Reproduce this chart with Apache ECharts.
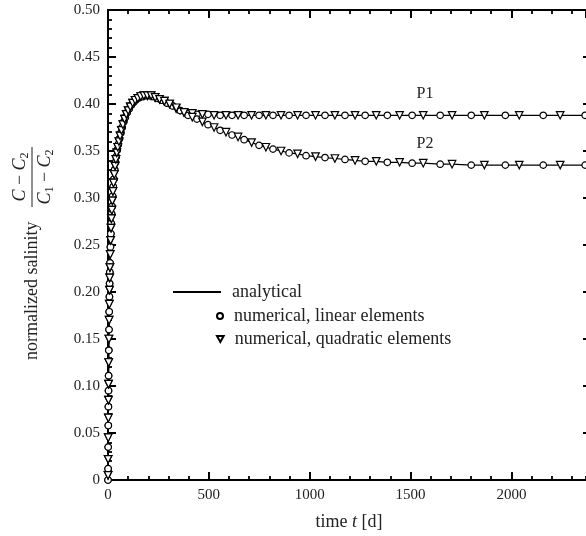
<!DOCTYPE html>
<html>
<head>
<meta charset="utf-8">
<script src="https://cdn.jsdelivr.net/npm/echarts@6/dist/echarts.min.js"></script>
<style>
  html, body { margin: 0; padding: 0; background: #fff; }
  #chart { width: 586px; height: 536px; }
</style>
</head>
<body>
<div id="chart"></div>
<script>
// output times [d] of the linear-element run (circles)
const tLin = [0, 0.5, 1, 1.5, 2, 2.5, 3, 4, 5, 6,
  7, 8, 9, 10, 12, 14, 16, 18, 20, 23,
  26, 29, 33, 37, 41, 46, 51, 57, 63, 70,
  78, 86, 95, 105, 116, 128, 141, 155, 170, 186,
  204, 223, 244, 267, 292, 320, 358, 397, 441, 496,
  556, 615, 675, 749, 818, 898, 982, 1076, 1175, 1275,
  1385, 1508, 1647, 1801, 1970, 2158, 2366];
const p1Lin = [0, 0.012, 0.035, 0.058, 0.078, 0.095, 0.111, 0.138, 0.160, 0.179,
  0.195, 0.209, 0.221, 0.231, 0.248, 0.262, 0.273, 0.283, 0.291, 0.302,
  0.312, 0.320, 0.330, 0.338, 0.344, 0.351, 0.357, 0.363, 0.369, 0.375,
  0.381, 0.386, 0.391, 0.395, 0.399, 0.402, 0.405, 0.407, 0.408, 0.409,
  0.409, 0.408, 0.406, 0.404, 0.401, 0.398, 0.393, 0.390, 0.389, 0.389,
  0.388, 0.388, 0.388, 0.388, 0.388, 0.388, 0.388, 0.388, 0.388, 0.388,
  0.388, 0.388, 0.388, 0.388, 0.388, 0.388, 0.388];
const p2Lin = [0, 0.012, 0.035, 0.058, 0.078, 0.095, 0.111, 0.138, 0.160, 0.179,
  0.195, 0.209, 0.221, 0.231, 0.248, 0.262, 0.273, 0.283, 0.291, 0.302,
  0.312, 0.320, 0.330, 0.338, 0.344, 0.351, 0.357, 0.363, 0.369, 0.375,
  0.381, 0.386, 0.391, 0.395, 0.399, 0.402, 0.405, 0.407, 0.408, 0.409,
  0.409, 0.408, 0.406, 0.404, 0.401, 0.398, 0.393, 0.388, 0.384, 0.378,
  0.372, 0.367, 0.362, 0.356, 0.352, 0.348, 0.345, 0.343, 0.341, 0.339,
  0.338, 0.337, 0.336, 0.335, 0.335, 0.335, 0.335];

// output times [d] of the quadratic-element run (triangles)
const tQuad = [0.3, 0.7, 1.2, 1.7, 2.2, 2.7, 3.5, 4.5, 5.5, 6.5,
  7.5, 8.5, 9.5, 11, 13, 15, 17, 19, 21.5, 24.5,
  27.5, 31, 35, 39, 43.5, 48.5, 54, 60, 66.5, 74,
  82, 90.5, 100, 110.5, 122, 134.5, 148, 162.5, 178, 195,
  213.5, 233.5, 255.5, 279.5, 305.5, 338, 377, 418, 468, 526,
  585, 645, 712, 783, 858, 940, 1029, 1125, 1225, 1330,
  1446, 1563, 1706, 1866, 2039, 2242];
const p1Quad = [0.005, 0.022, 0.045, 0.066, 0.085, 0.102, 0.125, 0.150, 0.170, 0.187,
  0.202, 0.215, 0.226, 0.240, 0.255, 0.268, 0.278, 0.287, 0.297, 0.307,
  0.316, 0.325, 0.334, 0.341, 0.348, 0.354, 0.360, 0.366, 0.372, 0.378,
  0.384, 0.389, 0.393, 0.397, 0.401, 0.404, 0.406, 0.408, 0.409, 0.409,
  0.409, 0.407, 0.405, 0.403, 0.400, 0.395, 0.391, 0.390, 0.389, 0.388,
  0.388, 0.388, 0.388, 0.388, 0.388, 0.388, 0.388, 0.388, 0.388, 0.388,
  0.388, 0.388, 0.388, 0.388, 0.388, 0.388];
const p2Quad = [0.005, 0.022, 0.045, 0.066, 0.085, 0.102, 0.125, 0.150, 0.170, 0.187,
  0.202, 0.215, 0.226, 0.240, 0.255, 0.268, 0.278, 0.287, 0.297, 0.307,
  0.316, 0.325, 0.334, 0.341, 0.348, 0.354, 0.360, 0.366, 0.372, 0.378,
  0.384, 0.389, 0.393, 0.397, 0.401, 0.404, 0.406, 0.408, 0.409, 0.409,
  0.409, 0.407, 0.405, 0.403, 0.400, 0.396, 0.391, 0.386, 0.381, 0.375,
  0.370, 0.365, 0.359, 0.354, 0.350, 0.347, 0.344, 0.342, 0.340, 0.339,
  0.338, 0.337, 0.336, 0.335, 0.335, 0.335];

const xTicks = [0, 500, 1000, 1500, 2000];
const yTicks = [0, 0.05, 0.1, 0.15, 0.2, 0.25, 0.3, 0.35, 0.4, 0.45, 0.5];
const pointLabels = ['P1', 'P2'];
const labelTime = 1572;
const xMax = 2370; // visible end of the time axis (figure is cropped on the right)

const FONT = 'Liberation Serif';

function pairs(t, v) {
  return t.map((x, i) => [x, v[i]]);
}
// analytical curve drawn through all output times of both runs
function merged(vLin, vQuad) {
  return pairs(tLin, vLin).concat(pairs(tQuad, vQuad)).sort((a, b) => a[0] - b[0]);
}

const chart = echarts.init(document.getElementById('chart'), null, { renderer: 'canvas' });

const axisLine = { onZero: false, lineStyle: { color: '#000', width: 2 } };
const tickStyle = { color: '#000', width: 2 };

function majorX(position, extra) {
  return Object.assign({
    type: 'value', min: 0, max: xMax, interval: 500, position: position,
    axisLine: axisLine,
    axisTick: { inside: true, length: 8, lineStyle: tickStyle },
    splitLine: { show: false },
    axisLabel: { show: false }
  }, extra || {});
}
function minorX(position) {
  return {
    type: 'value', min: 0, max: xMax, interval: 100, position: position,
    axisLine: { show: false, onZero: false },
    axisTick: { inside: true, length: 4, lineStyle: { color: '#000', width: 1.8 } },
    splitLine: { show: false },
    axisLabel: { show: false }
  };
}
const yCommon = {
  type: 'value', min: 0, max: 0.5, interval: 0.05,
  axisLine: axisLine,
  axisTick: { inside: true, length: 8, lineStyle: tickStyle },
  minorTick: { show: true, splitNumber: 5, length: 4, lineStyle: { color: '#000', width: 1.8 } },
  splitLine: { show: false }
};

function lineSeries(vLin, vQuad, label) {
  return {
    name: 'analytical', type: 'line', data: merged(vLin, vQuad),
    symbol: 'none', z: 2, silent: true,
    lineStyle: { color: '#000', width: 1.2 },
    itemStyle: { color: '#000' },
    markPoint: {
      symbol: 'circle', symbolSize: 0, silent: true,
      label: { show: true, position: 'inside', offset: [0, -21], formatter: label,
        fontFamily: FONT, fontSize: 16, color: '#222' },
      data: [{ coord: [labelTime, vLin[vLin.length - 1]] }]
    }
  };
}
function markerSeries(name, t, v, symbol) {
  return {
    name: name, type: 'scatter', data: pairs(t, v), z: 3, silent: true,
    symbol: symbol, symbolSize: symbol === 'circle' ? 6.5 : 7.5,
    symbolRotate: symbol === 'triangle' ? 180 : 0,
    itemStyle: { color: '#fff', borderColor: '#000', borderWidth: 1.2, opacity: 1 }
  };
}

const legendText = { fontFamily: FONT, fontSize: 18, color: '#222', padding: [0, 0, 0, 6] };

chart.setOption({
  animation: false,
  backgroundColor: '#fff',
  grid: { left: 108, right: 0, top: 10, bottom: 56 },
  legend: [
    { data: [{ name: 'analytical', icon: 'rect' }], left: 173, top: 283, padding: 0,
      itemWidth: 48, itemHeight: 2, itemStyle: { color: '#000', borderWidth: 0 },
      selectedMode: false, textStyle: legendText },
    { data: ['numerical, linear elements'], left: 216, top: 307, padding: 0, itemWidth: 6, itemHeight: 6,
      selectedMode: false, textStyle: legendText },
    { data: [{ name: 'numerical, quadratic elements', icon: 'path://M0,0 L10,0 L5,9 Z' }],
      left: 216, top: 330, padding: 0, itemWidth: 7, itemHeight: 6,
      selectedMode: false, textStyle: legendText }
  ],
  xAxis: [
    majorX('bottom', {
      name: '{n|time }{i|t}{n| [d]}',
      nameLocation: 'middle', nameGap: 33,
      nameTextStyle: {
        padding: [0, 0, 0, 4],
        rich: {
          n: { fontFamily: FONT, fontSize: 18, color: '#222' },
          i: { fontFamily: FONT, fontSize: 18, fontStyle: 'italic', color: '#222' }
        }
      },
      axisLabel: {
        show: true, margin: 8, fontFamily: FONT, fontSize: 15, color: '#222',
        showMaxLabel: false,
        formatter: (v) => (xTicks.indexOf(v) >= 0 ? String(v) : '')
      }
    }),
    majorX('top'),
    minorX('bottom'),
    minorX('top')
  ],
  yAxis: [
    Object.assign({}, yCommon, {
      position: 'left',
      axisLabel: {
        margin: 8, fontFamily: FONT, fontSize: 15, color: '#222',
        formatter: (v) => {
          const k = yTicks.findIndex((y) => Math.abs(y - v) < 1e-9);
          if (k < 0) return '';
          return yTicks[k] === 0 ? '0' : yTicks[k].toFixed(2);
        }
      }
    }),
    Object.assign({}, yCommon, { position: 'right', offset: 5, axisLabel: { show: false } })
  ],
  graphic: [
    {
      type: 'group', x: 32, y: 253, rotation: Math.PI / 2, silent: true,
      children: [
        { type: 'text', x: -107, y: 0,
          style: { text: 'normalized salinity', fontFamily: FONT, fontSize: 18, fill: '#222',
            align: 'left', verticalAlign: 'middle' } },
        { type: 'text', x: 76, y: -12,
          style: { text: '{i|C} − {i|C}{s|2}', fontFamily: FONT, fontSize: 18, lineHeight: 22, fill: '#222',
            align: 'center', verticalAlign: 'middle',
            rich: {
              i: { fontFamily: FONT, fontSize: 18, fontStyle: 'italic', lineHeight: 22, fill: '#222' },
              s: { fontFamily: FONT, fontSize: 12, lineHeight: 12, verticalAlign: 'bottom', fill: '#222' }
            } } },
        { type: 'line', shape: { x1: 46, y1: 0, x2: 106, y2: 0 }, style: { stroke: '#222', lineWidth: 1 } },
        { type: 'text', x: 76, y: 13,
          style: { text: '{i|C}{s|1} − {i|C}{s|2}', fontFamily: FONT, fontSize: 18, lineHeight: 22, fill: '#222',
            align: 'center', verticalAlign: 'middle',
            rich: {
              i: { fontFamily: FONT, fontSize: 18, fontStyle: 'italic', lineHeight: 22, fill: '#222' },
              s: { fontFamily: FONT, fontSize: 12, lineHeight: 12, verticalAlign: 'bottom', fill: '#222' }
            } } }
      ]
    }
  ],
  series: [
    lineSeries(p1Lin, p1Quad, pointLabels[0]),
    lineSeries(p2Lin, p2Quad, pointLabels[1]),
    markerSeries('numerical, linear elements', tLin, p1Lin, 'circle'),
    markerSeries('numerical, linear elements', tLin, p2Lin, 'circle'),
    markerSeries('numerical, quadratic elements', tQuad, p1Quad, 'triangle'),
    markerSeries('numerical, quadratic elements', tQuad, p2Quad, 'triangle')
  ]
});
</script>
</body>
</html>
